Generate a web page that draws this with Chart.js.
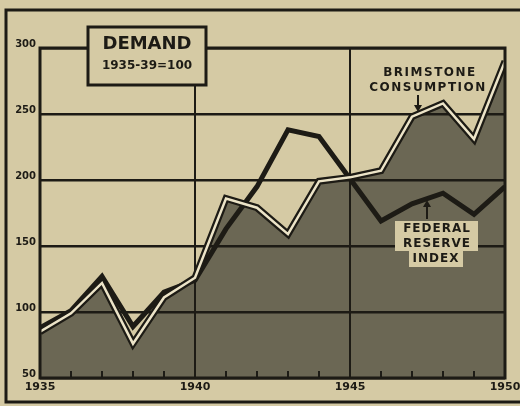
<!DOCTYPE html>
<html>
<head>
<meta charset="utf-8">
<script src="https://cdn.jsdelivr.net/npm/chart.js@4"></script>
<style>
  html, body { margin: 0; padding: 0; background: #d5caa4; }
  canvas { display: block; background: #d5caa4; }
</style>
</head>
<body>
<canvas id="chartDemand" width="520" height="406"></canvas>
<script>
// Dados (índice 1935-39 = 100)
const anos = [1935, 1936, 1937, 1938, 1939, 1940, 1941, 1942, 1943, 1944, 1945, 1946, 1947, 1948, 1949, 1950];
const enxofre = [85, 99, 122, 76, 111, 126, 186, 179, 159, 199, 202, 207, 248, 258, 231, 290];
const federal = [88, 101, 127, 89, 115, 124, 163, 195, 238, 233, 201, 169, 182, 190, 174, 195];
const anosRotulo = [1935, 1940, 1945, 1950];
const anosGrade = [1940, 1945];

const PAPEL = '#d5caa4';
const TINTA = '#1d1b15';
const PREENCHIMENTO = '#6b6754';
const CREME = '#ece4c8';
const FONTE = '"DejaVu Sans", "Liberation Sans", sans-serif';

function seta(ctx, x, y1, y2) {
  const dir = y2 > y1 ? 1 : -1;
  ctx.beginPath();
  ctx.moveTo(x, y1);
  ctx.lineTo(x, y2 - dir * 4);
  ctx.stroke();
  ctx.beginPath();
  ctx.moveTo(x, y2);
  ctx.lineTo(x - 4, y2 - dir * 7);
  ctx.lineTo(x + 4, y2 - dir * 7);
  ctx.closePath();
  ctx.fill();
}

// Moldura, marcas dos anos e rótulos
const decoracao = {
  id: 'decoracao',
  beforeDraw(chart) {
    const ctx = chart.ctx;
    ctx.save();
    ctx.strokeStyle = TINTA;
    ctx.lineWidth = 3;
    ctx.beginPath();
    ctx.moveTo(520, 10);
    ctx.lineTo(6, 10);
    ctx.lineTo(6, 402);
    ctx.lineTo(520, 402);
    ctx.stroke();
    ctx.restore();
  },
  afterDatasetsDraw(chart) {
    const { ctx, chartArea: a, scales } = chart;
    ctx.save();
    ctx.strokeStyle = TINTA;
    ctx.fillStyle = TINTA;

    // marcas de ano na base
    ctx.lineWidth = 2;
    anos.forEach(ano => {
      const x = scales.x.getPixelForValue(ano);
      ctx.beginPath();
      ctx.moveTo(x, a.bottom);
      ctx.lineTo(x, a.bottom - 7);
      ctx.stroke();
    });

    ctx.lineWidth = 3;
    ctx.strokeRect(a.left, a.top, a.right - a.left, a.bottom - a.top);

    // caixa do título
    ctx.fillStyle = PAPEL;
    ctx.fillRect(88, 27, 118, 58);
    ctx.strokeRect(88, 27, 118, 58);
    ctx.fillStyle = TINTA;
    ctx.textAlign = 'center';
    ctx.textBaseline = 'middle';
    ctx.font = 'bold 18px ' + FONTE;
    ctx.fillText('DEMAND', 147, 44);
    ctx.font = 'bold 12px ' + FONTE;
    ctx.fillText('1935-39=100', 147, 66);

    // rótulo enxofre
    ctx.font = 'bold 12px ' + FONTE;
    ctx.letterSpacing = '1.5px';
    ctx.fillText('BRIMSTONE', 430, 73);
    ctx.fillText('CONSUMPTION', 428, 88);
    ctx.lineWidth = 2;
    seta(ctx, 418, 95, 112);

    // rótulo Federal Reserve
    ctx.letterSpacing = '1px';
    ctx.fillStyle = PAPEL;
    ctx.fillRect(395, 221, 83, 30);
    ctx.fillRect(409, 250, 54, 17);
    ctx.fillStyle = TINTA;
    ctx.fillText('FEDERAL', 437, 229);
    ctx.fillText('RESERVE', 437, 244);
    ctx.fillText('INDEX', 436, 259);
    seta(ctx, 427, 219, 200);
    ctx.restore();
  }
};

const ctx = document.getElementById('chartDemand');

new Chart(ctx, {
  type: 'line',
  data: {
    labels: anos,
    datasets: [
      {
        label: 'Federal Reserve Index',
        data: anos.map((a, i) => ({ x: a, y: federal[i] })),
        borderColor: TINTA,
        borderWidth: 5,
        pointRadius: 0,
        fill: false,
        order: 2
      },
      {
        label: 'Brimstone (contorno)',
        data: anos.map((a, i) => ({ x: a, y: enxofre[i] })),
        borderColor: TINTA,
        backgroundColor: PREENCHIMENTO,
        borderWidth: 7,
        pointRadius: 0,
        fill: 'start',
        order: 1
      },
      {
        label: 'Brimstone Consumption',
        data: anos.map((a, i) => ({ x: a, y: enxofre[i] })),
        borderColor: CREME,
        borderWidth: 2.5,
        pointRadius: 0,
        fill: false,
        order: 0
      }
    ]
  },
  options: {
    responsive: false,
    animation: false,
    layout: { padding: { left: 0, top: 48, right: 15, bottom: 0 } },
    plugins: {
      legend: { display: false },
      tooltip: { enabled: false },
      filler: { drawTime: 'beforeDraw' }
    },
    scales: {
      x: {
        type: 'linear',
        min: 1935,
        max: 1950,
        afterFit: s => { s.height = 28; s.paddingLeft = 0; s.paddingRight = 0; },
        border: { display: false },
        grid: {
          drawTicks: false,
          lineWidth: 2,
          color: c => anosGrade.includes(c.tick.value) ? TINTA : 'rgba(0,0,0,0)'
        },
        ticks: {
          stepSize: 1,
          autoSkip: false,
          maxRotation: 0,
          padding: 3,
          color: TINTA,
          font: { family: FONTE, size: 11, weight: 'bold' },
          callback: v => anosRotulo.includes(v) ? String(v) : ''
        }
      },
      y: {
        min: 50,
        max: 300,
        afterFit: s => { s.width = 40; },
        border: { display: false },
        grid: { drawTicks: false, lineWidth: 2.5, color: TINTA },
        ticks: {
          stepSize: 50,
          padding: 4,
          labelOffset: -4,
          color: TINTA,
          font: { family: FONTE, size: 10, weight: 'bold' }
        }
      }
    }
  },
  plugins: [decoracao]
});
</script>
</body>
</html>
